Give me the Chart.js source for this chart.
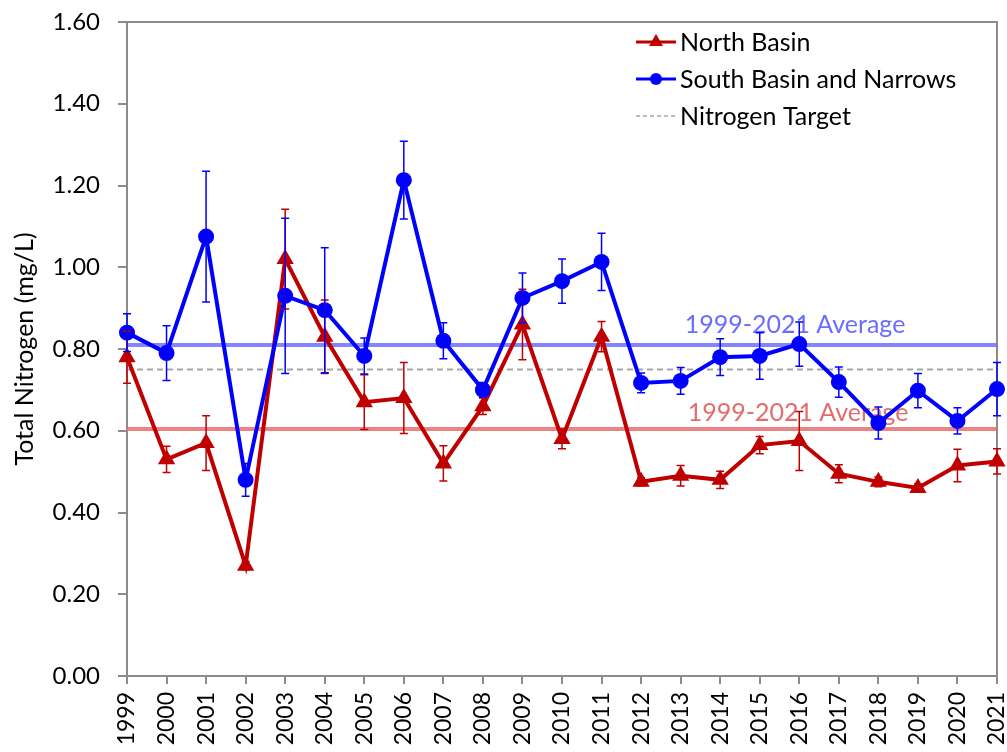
<!DOCTYPE html>
<html>
<head>
<meta charset="utf-8">
<title>Total Nitrogen</title>
<script src="https://cdn.jsdelivr.net/npm/chart.js@4.4.1/dist/chart.umd.min.js"></script>
<style>
  html, body { margin: 0; padding: 0; background: #ffffff; }
  #wrap { width: 1007px; height: 752px; }
</style>
</head>
<body>
<div id="wrap"><canvas id="tn" width="1007" height="752"></canvas></div>
<script>
// --- data ---
const years = ['1999', '2000', '2001', '2002', '2003', '2004', '2005', '2006', '2007', '2008', '2009', '2010',
  '2011', '2012', '2013', '2014', '2015', '2016', '2017', '2018', '2019', '2020', '2021'];

const northBasin = [0.78, 0.53, 0.57, 0.27, 1.02, 0.83, 0.67, 0.68, 0.52, 0.66, 0.86, 0.58,
  0.83, 0.475, 0.49, 0.48, 0.565, 0.575, 0.495, 0.475, 0.46, 0.515, 0.525];
const northBasinErr = [0.064, 0.032, 0.067, 0.01, 0.122, 0.09, 0.067, 0.087, 0.043, 0.02, 0.086, 0.024,
  0.037, 0.01, 0.025, 0.021, 0.021, 0.072, 0.022, 0.012, 0.01, 0.04, 0.031];

const southBasin = [0.84, 0.79, 1.075, 0.48, 0.93, 0.895, 0.783, 1.213, 0.82, 0.70, 0.925, 0.966,
  1.013, 0.717, 0.722, 0.78, 0.783, 0.812, 0.719, 0.619, 0.698, 0.624, 0.702];
const southBasinErr = [0.046, 0.067, 0.16, 0.04, 0.19, 0.153, 0.044, 0.095, 0.044, 0.018, 0.061, 0.054,
  0.07, 0.024, 0.033, 0.045, 0.057, 0.054, 0.037, 0.039, 0.042, 0.032, 0.065];

const nitrogenTarget = 0.75;
const northAverage = 0.604;
const southAverage = 0.81;
const averageLabel = '1999-2021 Average';

const yMin = 0, yMax = 1.6, yStep = 0.2;

const RED = '#C00000';
const BLUE = '#0000FF';
const AXIS_GREY = '#8c8c8c';
const FONT = 'Lato';

// error bars, drawn through the chart scales
const errorBars = {
  id: 'errorBars',
  afterDatasetsDraw(chart) {
    const { ctx, scales: { x, y } } = chart;
    const sets = [
      { vals: northBasin, errs: northBasinErr, color: RED },
      { vals: southBasin, errs: southBasinErr, color: BLUE }
    ];
    ctx.save();
    ctx.lineWidth = 1.5;
    sets.forEach(s => {
      ctx.strokeStyle = s.color;
      s.vals.forEach((v, i) => {
        const px = x.getPixelForValue(i);
        const top = y.getPixelForValue(v + s.errs[i]);
        const bot = y.getPixelForValue(v - s.errs[i]);
        ctx.beginPath();
        ctx.moveTo(px, top); ctx.lineTo(px, bot);
        ctx.moveTo(px - 4, top); ctx.lineTo(px + 4, top);
        ctx.moveTo(px - 4, bot); ctx.lineTo(px + 4, bot);
        ctx.stroke();
      });
    });
    ctx.restore();
  }
};

// plot frame, average labels and the legend
const decorations = {
  id: 'decorations',
  beforeDatasetsDraw(chart) {
    const { ctx, chartArea: a, scales: { y } } = chart;
    ctx.save();
    ctx.strokeStyle = AXIS_GREY;
    ctx.lineWidth = 2;
    ctx.beginPath();
    ctx.moveTo(a.left, a.top); ctx.lineTo(a.right, a.top); ctx.lineTo(a.right, a.bottom);
    ctx.stroke();

    ctx.font = `25px ${FONT}`;
    ctx.textAlign = 'center';
    ctx.textBaseline = 'middle';
    ctx.fillStyle = 'rgba(100,100,255,0.95)';
    ctx.fillText(averageLabel, 795, y.getPixelForValue(southAverage) - 20);
    ctx.fillStyle = 'rgba(225,100,100,0.95)';
    ctx.fillText(averageLabel, 798, y.getPixelForValue(northAverage) - 16);
    ctx.restore();
  },
  afterDraw(chart) {
    const { ctx } = chart;
    const items = [
      { text: 'North Basin', color: RED, style: 'triangle', y: 42 },
      { text: 'South Basin and Narrows', color: BLUE, style: 'circle', y: 79 },
      { text: 'Nitrogen Target', color: '#a6a6a6', style: 'dash', y: 116 }
    ];
    ctx.save();
    items.forEach(it => {
      ctx.strokeStyle = it.color;
      ctx.fillStyle = it.color;
      if (it.style === 'dash') {
        ctx.lineWidth = 1.5;
        ctx.setLineDash([4, 3]);
      } else {
        ctx.lineWidth = 3;
        ctx.setLineDash([]);
      }
      ctx.beginPath();
      ctx.moveTo(636, it.y); ctx.lineTo(676, it.y);
      ctx.stroke();
      ctx.setLineDash([]);
      if (it.style !== 'dash') {
        Chart.helpers.drawPoint(ctx, { pointStyle: it.style, radius: it.style === 'triangle' ? 8 : 6, borderWidth: 0 }, 656, it.y);
      }
      ctx.fillStyle = '#000000';
      ctx.font = `25px ${FONT}`;
      ctx.textAlign = 'left';
      ctx.textBaseline = 'middle';
      ctx.fillText(it.text, 680, it.y + 1);
    });
    ctx.restore();
  }
};

new Chart(document.getElementById('tn'), {
  type: 'line',
  data: {
    labels: years,
    datasets: [
      {
        label: 'South Basin and Narrows',
        data: southBasin,
        borderColor: BLUE,
        backgroundColor: BLUE,
        borderWidth: 4,
        pointStyle: 'circle',
        pointRadius: 8,
        pointBorderWidth: 0,
        tension: 0,
        clip: false,
        order: 0
      },
      {
        label: 'North Basin',
        data: northBasin,
        borderColor: RED,
        backgroundColor: RED,
        borderWidth: 4,
        pointStyle: 'triangle',
        pointRadius: 10,
        pointBorderWidth: 0,
        tension: 0,
        clip: false,
        order: 1
      },
      {
        label: 'Nitrogen Target',
        data: [{ x: years[0], y: nitrogenTarget }, { x: years[years.length - 1], y: nitrogenTarget }],
        borderColor: '#a6a6a6',
        borderWidth: 2,
        borderDash: [6, 4],
        pointRadius: 0,
        order: 2
      },
      {
        label: 'South Average',
        data: [{ x: years[0], y: southAverage }, { x: years[years.length - 1], y: southAverage }],
        borderColor: 'rgba(110,110,255,0.85)',
        borderWidth: 4,
        pointRadius: 0,
        order: 3
      },
      {
        label: 'North Average',
        data: [{ x: years[0], y: northAverage }, { x: years[years.length - 1], y: northAverage }],
        borderColor: 'rgba(230,110,110,0.85)',
        borderWidth: 4,
        pointRadius: 0,
        order: 3
      }
    ]
  },
  options: {
    responsive: false,
    animation: false,
    layout: { padding: { top: 22, right: 9, left: 0, bottom: 0 } },
    plugins: {
      legend: { display: false },
      tooltip: { enabled: false }
    },
    scales: {
      x: {
        type: 'category',
        offset: false,
        grid: { display: true, drawOnChartArea: false, color: AXIS_GREY, lineWidth: 2, tickLength: 8 },
        border: { color: AXIS_GREY, width: 2 },
        ticks: {
          color: '#000000',
          font: { family: FONT, size: 23 },
          minRotation: 90,
          maxRotation: 90,
          autoSkip: false,
          padding: 8
        },
        afterFit: (scale) => {
          scale.height = 76;
          scale.paddingLeft = 0;
          scale.paddingRight = 0;
        }
      },
      y: {
        min: yMin,
        max: yMax,
        grid: { display: true, drawOnChartArea: false, color: AXIS_GREY, lineWidth: 2, tickLength: 9 },
        border: { color: AXIS_GREY, width: 2 },
        ticks: {
          stepSize: yStep,
          color: '#000000',
          font: { family: FONT, size: 24 },
          padding: 18,
          callback: (v) => Number(v).toFixed(2)
        },
        title: {
          display: true,
          text: 'Total Nitrogen (mg/L)',
          color: '#000000',
          font: { family: FONT, size: 25 },
          padding: { top: 10, bottom: 0 }
        },
        afterFit: (scale) => {
          scale.width = 127;
          scale.paddingTop = 0;
          scale.paddingBottom = 0;
        }
      }
    }
  },
  plugins: [errorBars, decorations]
});
</script>
</body>
</html>
